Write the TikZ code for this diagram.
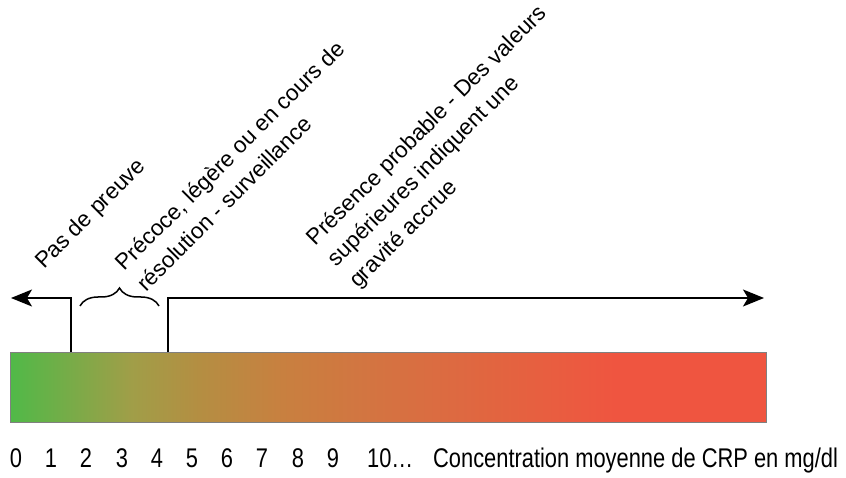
\documentclass[tikz,border=0pt]{standalone}
\usepackage{fontspec}
\setmainfont{Liberation Sans}
\usetikzlibrary{arrows.meta,decorations.pathreplacing}

\definecolor{crpgreen}{RGB}{80,185,72}
\definecolor{crpolive}{RGB}{160,158,72}
\definecolor{crpochre}{RGB}{180,142,66}
\definecolor{crpamber}{RGB}{200,128,64}
\definecolor{crporange}{RGB}{215,112,65}
\definecolor{crpcoral}{RGB}{232,94,64}
\definecolor{crpred}{RGB}{239,85,64}

\pgfdeclarehorizontalshading{crpscale}{100bp}{color(0bp)=(crpgreen); color(25bp)=(crpgreen);
  color(33bp)=(crpolive); color(37.5bp)=(crpochre); color(43bp)=(crpamber);
  color(51bp)=(crporange); color(60.5bp)=(crpcoral); color(65bp)=(crpred);
  color(75bp)=(crpred); color(100bp)=(crpred)}

\tikzset{
  slanttext/.style={rotate=45,anchor=base west,align=left,inner sep=0pt,
    font=\fontsize{22.5}{30}\selectfont},
  scaletext/.style={anchor=base,inner sep=0pt,xscale=0.81,
    font=\fontsize{27}{30}\selectfont},
  bound/.style={line width=1.5pt},
  arr/.style={bound,-{Stealth[length=21pt,width=17pt,inset=5pt]}}
}

\begin{document}
\begin{tikzpicture}[x=1pt,y=1pt]
\useasboundingbox (0,0) rectangle (846,477);

% colour scale
\node[draw=gray,shade,shading=crpscale,minimum width=756pt,minimum height=70pt,
  inner sep=0pt] (bar) at (388,90) {};

% limits
\coordinate (cutlow) at (71,125);
\coordinate (cutlowtop) at (71,179);
\coordinate (leftend) at (11,179);
\coordinate (cuthigh) at (168,125);
\coordinate (cuthightop) at (168,179);
\coordinate (rightend) at (764,179);
\draw[arr] (cutlow) -- (cutlowtop) -- (leftend);
\draw[arr] (cuthigh) -- (cuthightop) -- (rightend);
\draw[bound,decorate,decoration={brace,amplitude=18pt}] (80,171) -- (159,171);

% zones (base = last line)
\node[slanttext] (none) at (44,207) {Pas de preuve};
\node[slanttext] (early) at (146,184) {Précoce, légère ou en cours de\\résolution - surveillance};
\node[slanttext] (likely) at (358,188) {Présence probable - Des valeurs\\supérieures indiquent une\\gravité accrue};

% axis
\node[scaletext] (n0) at (16,10) {0};
\node[scaletext] (n1) at (51,10) {1};
\node[scaletext] (n2) at (86,10) {2};
\node[scaletext] (n3) at (122,10) {3};
\node[scaletext] (n4) at (157,10) {4};
\node[scaletext] (n5) at (192,10) {5};
\node[scaletext] (n6) at (227,10) {6};
\node[scaletext] (n7) at (262,10) {7};
\node[scaletext] (n8) at (298,10) {8};
\node[scaletext] (n9) at (333,10) {9};
\node[scaletext,anchor=base west] (n10) at (367,10) {10…};
\node[scaletext,anchor=base west] (unit) at (433,10) {Concentration moyenne de CRP en mg/dl};
\end{tikzpicture}
\end{document}
